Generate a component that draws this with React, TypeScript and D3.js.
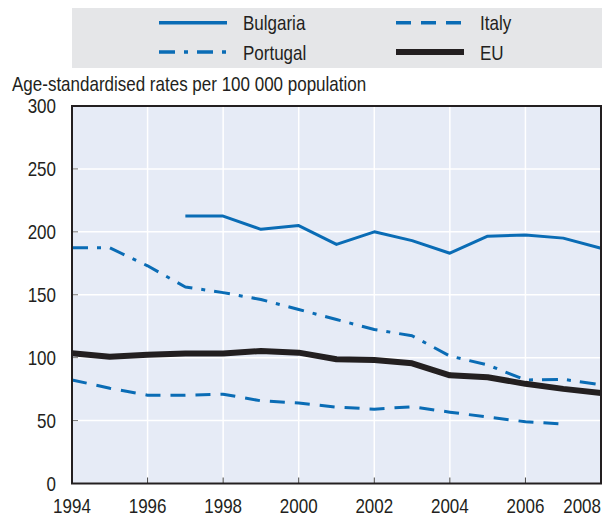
import React from 'react';
import * as d3 from 'd3';

const years = d3.range(1994, 2009);
const bulgaria: (number | null)[] = [null, null, null, 212.5, 212.5, 202, 205, 190, 200, 193, 183, 196.5, 197.5, 195, 187];
const italy: (number | null)[] = [82.3, 75.7, 70.2, 70.2, 71, 65.7, 63.9, 60.7, 59.1, 61, 56.7, 52.8, 49.1, 47.2, null];
const portugal: (number | null)[] = [187.3, 187.3, 173, 156.2, 151.7, 146.2, 138.3, 130.3, 122.4, 117.4, 101.3, 94.2, 82.3, 82.8, 78.4];
const eu: (number | null)[] = [103.5, 100.8, 102.4, 103.4, 103.4, 105.3, 104, 98.7, 98.2, 95.5, 86, 84.4, 79.2, 75.2, 72];

const yTicks = [0, 50, 100, 150, 200, 250, 300];
const xTicks = [1994, 1996, 1998, 2000, 2002, 2004, 2006, 2008];

const BLUE = '#0a6cb5';
const DARK = '#231f20';
const FONT = '"Liberation Sans", Arial, sans-serif';
const SQUEEZE = 0.85; // narrow the glyphs, the original uses a condensed face

const W = 615;
const H = 517;
const margin = { top: 106, right: 14, bottom: 33.5, left: 72 };

const series = [
  { name: 'Bulgaria', values: bulgaria, color: BLUE, width: 3, dash: undefined as string | undefined },
  { name: 'Italy', values: italy, color: BLUE, width: 3, dash: '15,10' },
  { name: 'Portugal', values: portugal, color: BLUE, width: 3, dash: '16,9,4,9' },
  { name: 'EU', values: eu, color: DARK, width: 6, dash: undefined as string | undefined },
];

const Label: React.FC<{ x: number; y: number; anchor?: string; dy?: string; children: React.ReactNode }> =
  ({ x, y, anchor = 'start', dy, children }) => (
    <text transform={`translate(${x},${y}) scale(${SQUEEZE},1)`} dy={dy} textAnchor={anchor}
      fontSize={20} fill={DARK}>{children}</text>
  );

export default function App() {
  const x = d3.scaleLinear().domain([1994, 2008]).range([margin.left, W - margin.right]);
  const y = d3.scaleLinear().domain([0, 300]).range([H - margin.bottom, margin.top]);

  const line = d3.line<[number, number | null]>()
    .defined(d => d[1] != null)
    .x(d => x(d[0]))
    .y(d => y(d[1] as number));

  // legend layout: two columns, two rows
  const legendItems = [
    { s: series[0], col: 0, row: 0 },
    { s: series[1], col: 1, row: 0 },
    { s: series[2], col: 0, row: 1 },
    { s: series[3], col: 1, row: 1 },
  ];
  const colX = [159, 396];
  const rowY = [22.7, 52];

  return (
    <svg width={W} height={H} style={{ position: 'absolute', left: 0, top: 0, background: '#fff' }} fontFamily={FONT}>
      {/* legend */}
      <rect x={72} y={8} width={530} height={60} fill="#e5e6e8" />
      {legendItems.map(({ s, col, row }) => (
        <g key={s.name}>
          <line x1={colX[col]} x2={colX[col] + 68} y1={rowY[row]} y2={rowY[row]}
            stroke={s.color} strokeWidth={s.name === 'EU' ? 6 : 3.5} strokeDasharray={s.dash} />
          <Label x={colX[col] + 84} y={rowY[row] + 7.5}>{s.name}</Label>
        </g>
      ))}

      <Label x={12} y={91}>Age-standardised rates per 100 000 population</Label>

      {/* plot area */}
      <rect x={margin.left} y={margin.top} width={W - margin.left - margin.right}
        height={H - margin.top - margin.bottom} fill="#e6ebf6" />
      {xTicks.map(t => (
        <line key={'gx' + t} x1={x(t)} x2={x(t)} y1={y(0)} y2={y(300)} stroke="#fff" strokeWidth={1.5} />
      ))}
      {yTicks.map(t => (
        <line key={'gy' + t} x1={x(1994)} x2={x(2008)} y1={y(t)} y2={y(t)} stroke="#fff" strokeWidth={1.5} />
      ))}
      {xTicks.map(t => (
        <line key={'tx' + t} x1={x(t)} x2={x(t)} y1={y(0)} y2={y(0) - 6} stroke="#444" strokeWidth={1} />
      ))}
      {yTicks.map(t => (
        <line key={'ty' + t} x1={x(1994)} x2={x(1994) + 6} y1={y(t)} y2={y(t)} stroke="#777" strokeWidth={1} />
      ))}

      {series.map(s => (
        <path key={s.name} d={line(years.map((yr, i) => [yr, s.values[i]] as [number, number | null])) || ''}
          fill="none" stroke={s.color} strokeWidth={s.width} strokeDasharray={s.dash}
          strokeLinejoin="round" />
      ))}

      <rect x={margin.left} y={margin.top} width={W - margin.left - margin.right}
        height={H - margin.top - margin.bottom} fill="none" stroke={DARK} strokeWidth={2} />

      {yTicks.map(t => (
        <Label key={'ly' + t} x={56} y={y(t)} dy="0.36em" anchor="end">{t}</Label>
      ))}
      {xTicks.map((t, i) => (
        <Label key={'lx' + t} x={x(t)} y={513}
          anchor={i === xTicks.length - 1 ? 'end' : 'middle'}>{t}</Label>
      ))}
    </svg>
  );
}
